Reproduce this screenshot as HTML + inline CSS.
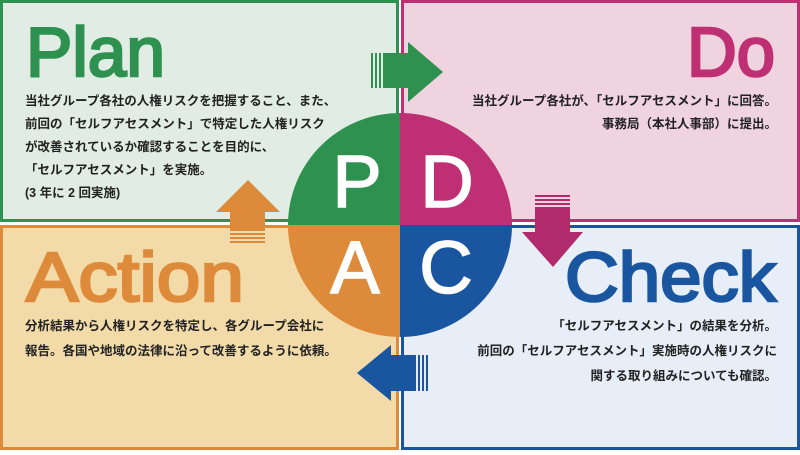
<!DOCTYPE html>
<html><head><meta charset="utf-8"><style>
html,body{margin:0;padding:0;background:#fff;}
svg text{font-family:"Liberation Sans","Noto Sans CJK JP",sans-serif;}
.t{font-size:12.5px;font-weight:bold;fill:#222;}
.h{font-size:70px;font-weight:normal;stroke-width:2.6;}
.c{font-size:74px;font-weight:normal;fill:#fff;text-anchor:middle;stroke:#fff;stroke-width:1.5;}
</style></head><body>
<svg width="800" height="450" viewBox="0 0 800 450" xmlns="http://www.w3.org/2000/svg">
<rect x="1.5" y="1.5" width="396" height="219" fill="#e1ede4" stroke="#2e9150" stroke-width="3"/>
<rect x="402.5" y="1.5" width="396" height="219" fill="#efd3df" stroke="#be2f74" stroke-width="3"/>
<rect x="1.5" y="226.5" width="396" height="222" fill="#f2dba8" stroke="#dd8a3a" stroke-width="3"/>
<rect x="402.5" y="226.5" width="396" height="222" fill="#e8eef8" stroke="#1a56a0" stroke-width="3"/>

<text class="h" x="26" y="76" fill="#2e9150" stroke="#2e9150" textLength="139" lengthAdjust="spacingAndGlyphs">Plan</text>
<text class="h" x="687" y="76" fill="#be2f74" stroke="#be2f74" textLength="88" lengthAdjust="spacingAndGlyphs">Do</text>
<text class="h" x="26" y="301" fill="#dd8a3a" stroke="#dd8a3a" textLength="218" lengthAdjust="spacingAndGlyphs">Action</text>
<text class="h" x="565" y="301" fill="#1a56a0" stroke="#1a56a0" textLength="211" lengthAdjust="spacingAndGlyphs">Check</text>

<g class="t">
<text x="25" y="105">当社グループ各社の人権リスクを把握すること、また、</text>
<text x="25" y="128">前回の「セルフアセスメント」で特定した人権リスク</text>
<text x="25" y="151">が改善されているか確認することを目的に、</text>
<text x="25" y="174">「セルフアセスメント」を実施。</text>
<text x="25" y="197">(3 年に 2 回実施)</text>
</g>
<g class="t" text-anchor="end">
<text x="777" y="105">当社グループ各社が、「セルフアセスメント」に回答。</text>
<text x="777" y="128">事務局（本社人事部）に提出。</text>
<text x="777" y="330">「セルフアセスメント」の結果を分析。</text>
<text x="777" y="355">前回の「セルフアセスメント」実施時の人権リスクに</text>
<text x="777" y="380">関する取り組みについても確認。</text>
</g>
<g class="t">
<text x="25" y="330">分析結果から人権リスクを特定し、各グループ会社に</text>
<text x="25" y="355">報告。各国や地域の法律に沿って改善するように依頼。</text>
</g>

<path d="M400 225 L288 225 A112 112 0 0 1 400 113 Z" fill="#2e9150"/>
<path d="M400 225 L400 113 A112 112 0 0 1 512 225 Z" fill="#be2f74"/>
<path d="M400 225 L512 225 A112 112 0 0 1 400 337 Z" fill="#1a56a0"/>
<path d="M400 225 L400 337 A112 112 0 0 1 288 225 Z" fill="#dd8a3a"/>
<text class="c" x="357" y="207">P</text>
<text class="c" x="447" y="207">D</text>
<text class="c" x="355" y="293">A</text>
<text class="c" x="446" y="293">C</text>

<g fill="#2e9150">
<rect x="371" y="53" width="2" height="35"/><rect x="375" y="53" width="2" height="35"/><rect x="379" y="53" width="2" height="35"/>
<rect x="383" y="53" width="26" height="35"/>
<polygon points="408,42 443,72 408,102"/>
</g>
<g fill="#b02a6c">
<rect x="535" y="195" width="35" height="2"/><rect x="535" y="199" width="35" height="2"/><rect x="535" y="203" width="35" height="2"/>
<rect x="535" y="207" width="35" height="26"/>
<polygon points="522,232 583,232 553,267"/>
</g>
<g fill="#1a56a0">
<rect x="426" y="355" width="2" height="36"/><rect x="422" y="355" width="2" height="36"/><rect x="418" y="355" width="2" height="36"/>
<rect x="390" y="355" width="26" height="36"/>
<polygon points="391,345 357,373 391,401"/>
</g>
<g fill="#dd8a3a">
<polygon points="248,180 280,212 216,212"/>
<rect x="230" y="211" width="35" height="20"/>
<rect x="230" y="233" width="35" height="2"/><rect x="230" y="237" width="35" height="2"/><rect x="230" y="241" width="35" height="2"/>
</g>
</svg>
</body></html>
